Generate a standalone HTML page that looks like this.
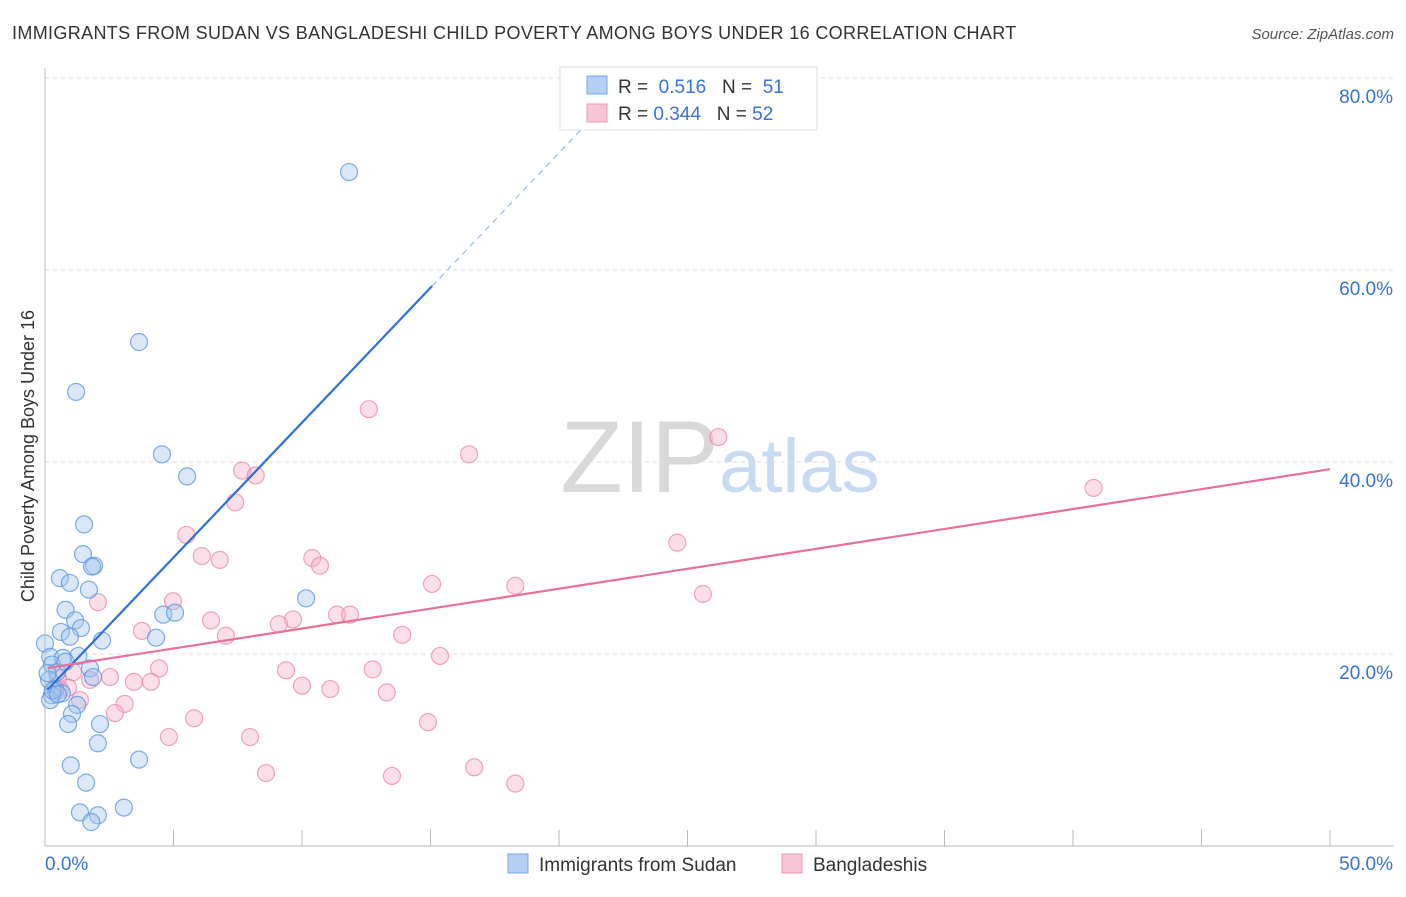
<!DOCTYPE html>
<html><head><meta charset="utf-8"><style>
body{margin:0;background:#fff;font-family:"Liberation Sans",sans-serif}
svg text{font-family:"Liberation Sans",sans-serif}
</style></head><body>
<svg width="1406" height="892" viewBox="0 0 1406 892">
<text x="12" y="39" font-size="18" fill="#333" letter-spacing="0.35">IMMIGRANTS FROM SUDAN VS BANGLADESHI CHILD POVERTY AMONG BOYS UNDER 16 CORRELATION CHART</text>
<text x="1394" y="39" font-size="15" fill="#555" text-anchor="end" font-style="italic">Source: ZipAtlas.com</text>
<text x="720" y="492" font-size="102" fill="#ddd" text-anchor="middle" font-family="Liberation Serif"><tspan fill="#d8d8d8">ZIP</tspan><tspan fill="#c8daf2" font-family="Liberation Sans" font-size="76">atlas</tspan></text>
<g id="grid"></g>
<g id="axes"></g>
<text transform="translate(34,456) rotate(-90)" font-size="18" fill="#333" text-anchor="middle">Child Poverty Among Boys Under 16</text>
<g id="marks"></g>
<g>
<rect x="560" y="67" width="257" height="63" fill="#fff" stroke="#ddd"/>
<rect x="587" y="76" width="20" height="18" fill="#b5cef3" stroke="#7aa6e3"/>
<text x="618" y="93" font-size="19" fill="#333">R = <tspan fill="#3a73d0">&#160;0.516</tspan>&#160;&#160;&#160;N = <tspan fill="#3a73d0">&#160;51</tspan></text>
<rect x="587" y="104" width="20" height="18" fill="#f7c5d5" stroke="#ea9ab6"/>
<text x="618" y="120" font-size="19" fill="#333">R = <tspan fill="#3a73d0">0.344</tspan>&#160;&#160;&#160;N = <tspan fill="#3a73d0">52</tspan></text>
</g>
<g>
<rect x="508" y="854" width="20" height="19" fill="#b5cef3" stroke="#7aa6e3"/>
<text x="539" y="871" font-size="19" fill="#333">Immigrants from Sudan</text>
<rect x="782" y="854" width="20" height="19" fill="#f7c5d5" stroke="#ea9ab6"/>
<text x="813" y="871" font-size="19" fill="#333">Bangladeshis</text>
</g>
</svg>
<script>
const yTicks=[20,40,60,80];
const yTickLabels=["20.0%","40.0%","60.0%","80.0%"];
const xTickLabels=["0.0%","50.0%"];
const sudanX=[11.83,3.66,1.21,4.55,5.53,1.52,1.48,1.91,1.83,0.58,0.97,1.71,10.16,0.8,4.6,5.06,1.17,1.4,0.62,0.97,2.22,4.32,0,0.2,0.7,1.3,0.27,1.75,0.47,1.87,0.16,0.4,0.66,0.27,0.2,1.25,1.05,2.14,0.9,2.06,3.66,1.0,1.6,1.36,3.07,2.06,1.8,0.1,0.3,0.5,0.8];
const sudanY=[70.2,52.5,47.3,40.8,38.5,33.5,30.4,29.2,29.1,27.9,27.4,26.7,25.8,24.6,24.1,24.3,23.5,22.7,22.3,21.8,21.4,21.7,21.1,19.7,19.6,19.8,18.9,18.5,18.1,17.6,17.3,16.3,15.9,15.7,15.2,14.7,13.75,12.7,12.7,10.7,9.0,8.4,6.6,3.5,4.0,3.2,2.5,18.0,16.2,15.8,19.2];
const bangX=[12.6,26.2,16.5,7.67,8.2,40.8,7.4,5.5,24.6,6.1,6.8,10.4,10.7,15.06,18.3,2.06,4.98,25.6,9.65,11.36,11.87,6.46,9.1,3.77,7.04,13.9,15.37,4.44,9.38,12.75,1.09,2.53,1.75,3.46,4.12,10.0,11.1,13.3,0.9,1.36,3.1,2.72,5.8,14.9,4.82,7.98,8.6,13.5,16.7,18.3,0.58,0.5];
const bangY=[45.5,42.6,40.8,39.1,38.6,37.3,35.8,32.4,31.6,30.2,29.8,30.0,29.2,27.3,27.1,25.4,25.5,26.25,23.6,24.1,24.1,23.5,23.1,22.4,21.9,22.0,19.8,18.5,18.3,18.4,18.1,17.6,17.3,17.1,17.1,16.7,16.35,16.0,16.5,15.2,14.8,13.85,13.3,12.9,11.35,11.35,7.6,7.3,8.2,6.5,16.3,17.5];
const sudanFit=[16.0,2.81];
const bangFit=[18.5,0.415];
const X=v=>45+v*25.7, Y=v=>846-v*9.6;
const NS="http://www.w3.org/2000/svg";
function mk(t,a,p){const e=document.createElementNS(NS,t);for(const k in a)e.setAttribute(k,a[k]);p.appendChild(e);return e;}
const grid=document.getElementById('grid'),axes=document.getElementById('axes'),marks=document.getElementById('marks');
yTicks.forEach((v,i)=>{
 const l=mk('line',{x1:45,x2:1394,y1:Y(v),y2:Y(v),stroke:'#ddd','stroke-dasharray':'4,4'},grid);
 
 
 const t=mk('text',{x:1393,y:Y(v)+25,'font-size':19,fill:'#3a73d0','text-anchor':'end'},grid);t.textContent=yTickLabels[i];
 
 
});
mk('line',{x1:45,x2:45,y1:68,y2:846,stroke:'#bbb'},axes);
mk('line',{x1:45,x2:1394,y1:846,y2:846,stroke:'#bbb'},axes);
for(let i=0;i<=10;i++){const tk=mk('line',{x1:X(i*5),x2:X(i*5),y1:830,y2:846,stroke:'#bbb'},axes);
 
 }
const t0=mk('text',{x:45,y:870,'font-size':19,fill:'#3a73d0'},axes);t0.textContent=xTickLabels[0];


const t1=mk('text',{x:1393,y:870,'font-size':19,fill:'#3a73d0','text-anchor':'end'},axes);t1.textContent=xTickLabels[1];


bangX.forEach((x,i)=>{const c=mk('circle',{cx:X(x),cy:Y(bangY[i]),r:8.5,fill:'rgba(244,172,198,0.4)',stroke:'rgba(232,130,166,0.7)','stroke-width':1.2},marks);
 
 });
sudanX.forEach((x,i)=>{const c=mk('circle',{cx:X(x),cy:Y(sudanY[i]),r:8.5,fill:'rgba(160,195,240,0.4)',stroke:'rgba(90,145,220,0.75)','stroke-width':1.2},marks);
 
 });
const f=(fit,x)=>fit[0]+fit[1]*x;
const bl=mk('line',{x1:X(0.1),y1:Y(f(sudanFit,0.1)),x2:X(15.06),y2:Y(f(sudanFit,15.06)),stroke:'#2f6fd6','stroke-width':2.2},marks);


const bd=mk('line',{x1:X(15.06),y1:Y(f(sudanFit,15.06)),x2:X(21.5),y2:Y(f(sudanFit,21.5)),stroke:'#9dbbe6','stroke-width':1.2,'stroke-dasharray':'6,5'},marks);


const pl=mk('line',{x1:X(0.1),y1:Y(f(bangFit,0.1)),x2:X(50),y2:Y(f(bangFit,50)),stroke:'#e8709a','stroke-width':2.2},marks);


</script>
</body></html>
